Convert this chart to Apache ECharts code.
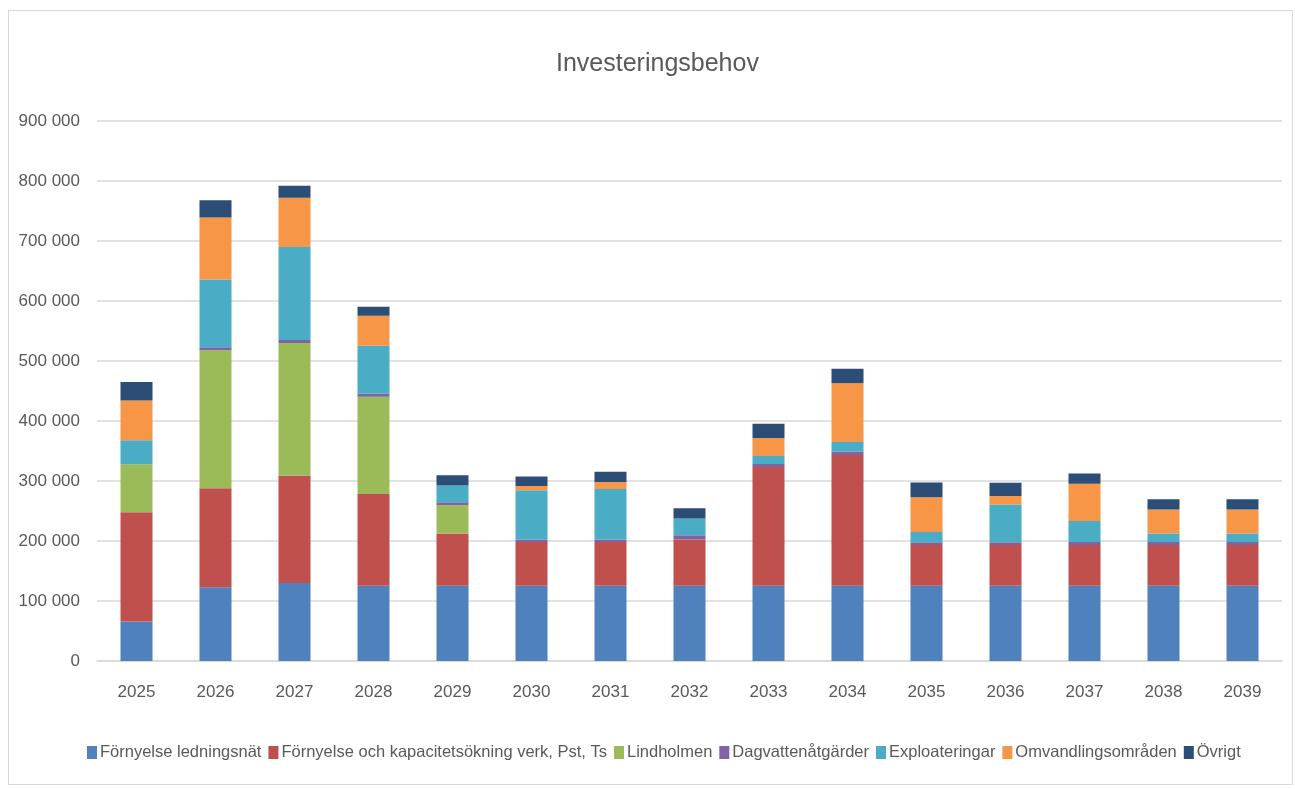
<!DOCTYPE html>
<html>
<head>
<meta charset="utf-8">
<script src="https://cdn.jsdelivr.net/npm/echarts@6/dist/echarts.min.js"></script>
<style>
  html, body { margin: 0; padding: 0; background: #fff; }
  #frame { position: absolute; left: 8px; top: 10px; width: 1285px; height: 775px; border: 1px solid #d9d9d9; box-sizing: border-box; }
  #chart { position: absolute; left: 0; top: 0; width: 1295px; height: 789px; }
</style>
</head>
<body>
<div id="frame"></div>
<div id="chart"></div>
<script>
// years on x axis
const years = ['2025', '2026', '2027', '2028', '2029', '2030', '2031', '2032', '2033', '2034', '2035', '2036', '2037', '2038', '2039']

// values (SEK thousands)
const fornyelseLedningsnat = [66000, 123000, 130000, 125500, 125500, 125500, 125500, 125500, 125500, 125500, 125500, 125500, 125500, 125500, 125500]
const fornyelseVerk = [182000, 165000, 179000, 153000, 87000, 73000, 73000, 77000, 198000, 218000, 68000, 68000, 68000, 68000, 68000]
const lindholmen = [80000, 230000, 221000, 162000, 47000, 0, 0, 0, 0, 0, 0, 0, 0, 0, 0]
const dagvatten = [0, 5000, 5000, 5000, 5000, 4000, 4000, 7000, 5000, 5500, 4500, 4500, 5000, 5000, 5000]
const exploateringar = [40000, 113000, 155000, 80000, 28000, 82000, 84000, 28000, 13000, 16000, 17000, 63000, 35000, 14000, 14000]
const omvandling = [66000, 103000, 82000, 50000, 0, 7000, 12000, 0, 30000, 98000, 58000, 14000, 62000, 40000, 40000]
const ovrigt = [31000, 29000, 20000, 15000, 17000, 16000, 17000, 17000, 24000, 24000, 24500, 22000, 17000, 17000, 17000]

const yTicks = [0, 100000, 200000, 300000, 400000, 500000, 600000, 700000, 800000, 900000]

const font = '"Liberation Sans Narrow", "Liberation Sans", sans-serif'
const textColor = '#595959'

const seriesDefs = [
  { name: 'Förnyelse ledningsnät', data: fornyelseLedningsnat, color: '#4f81bd' },
  { name: 'Förnyelse och kapacitetsökning verk, Pst, Ts', data: fornyelseVerk, color: '#c0504d' },
  { name: 'Lindholmen', data: lindholmen, color: '#9bbb59' },
  { name: 'Dagvattenåtgärder', data: dagvatten, color: '#8064a2' },
  { name: 'Exploateringar', data: exploateringar, color: '#4bacc6' },
  { name: 'Omvandlingsområden', data: omvandling, color: '#f79646' },
  { name: 'Övrigt', data: ovrigt, color: '#2c4d75' }
]

function fmt(v) {
  return String(v).replace(/\B(?=(\d{3})+(?!\d))/g, ' ')
}

const chart = echarts.init(document.getElementById('chart'), null, { renderer: 'canvas' })

chart.setOption({
  animation: false,
  color: seriesDefs.map(s => s.color),
  title: {
    text: 'Investeringsbehov',
    left: 551,
    top: 47,
    textStyle: { fontFamily: font, fontSize: 25, fontWeight: 'normal', color: textColor }
  },
  legend: {
    bottom: 23,
    left: 82,
    itemWidth: 10,
    itemHeight: 13,
    itemGap: 7,
    icon: 'rect',
    textStyle: { fontFamily: font, fontSize: 16.5, color: textColor, padding: [0, 0, 0, -2] },
    data: seriesDefs.map(s => s.name)
  },
  grid: {
    left: 97,
    right: 13,
    top: 121,
    bottom: 128,
    containLabel: false
  },
  xAxis: {
    type: 'category',
    data: years,
    axisLine: { lineStyle: { color: '#d9d9d9', width: 1.5 } },
    axisTick: { show: false },
    axisLabel: { fontFamily: font, fontSize: 17, color: textColor, margin: 23 }
  },
  yAxis: {
    type: 'value',
    min: yTicks[0],
    max: yTicks[yTicks.length - 1],
    interval: 100000,
    axisLine: { show: false },
    axisTick: { show: false },
    splitLine: { lineStyle: { color: '#d9d9d9', width: 1.5 } },
    axisLabel: { fontFamily: font, fontSize: 17, color: textColor, margin: 17, formatter: v => fmt(v) }
  },
  series: seriesDefs.map(s => ({
    name: s.name,
    type: 'bar',
    stack: 'total',
    barWidth: 32,
    data: s.data,
    itemStyle: { color: s.color }
  }))
})
</script>
</body>
</html>
